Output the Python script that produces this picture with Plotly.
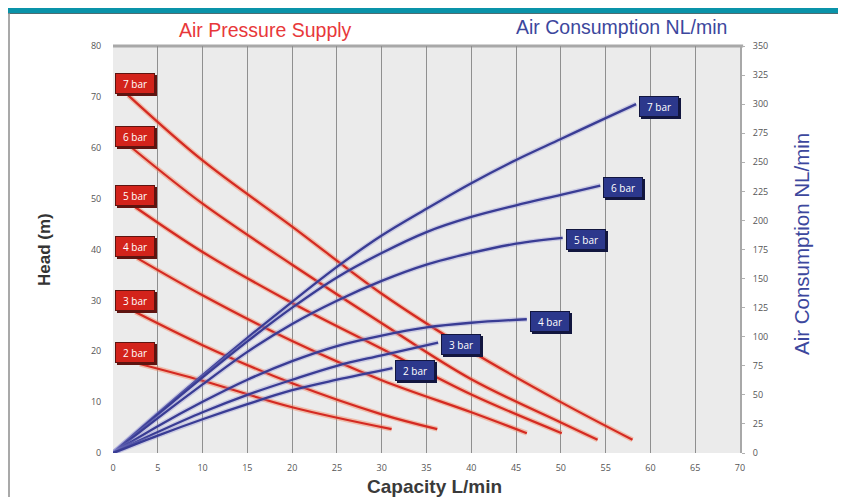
import plotly.graph_objects as go

# ---------------- data ----------------
bar_labels = ["7 bar", "6 bar", "5 bar", "4 bar", "3 bar", "2 bar"]

# Head (m) vs capacity (L/min) for each air pressure supply
head_x = [
    [1.7, 10, 20, 30, 40, 50, 58.0],
    [2.1, 10, 20, 30, 40, 50, 54.1],
    [2.5, 10, 20, 30, 40, 50.1],
    [2.7, 10, 20, 30, 40, 46.2],
    [2.5, 10, 20, 30, 36.2],
    [3.0, 10, 20, 31.1],
]
head_y = [
    [70.3, 57.5, 44.5, 31.3, 20.0, 10.0, 2.6],
    [60.0, 49.0, 37.0, 25.5, 14.5, 6.0, 2.6],
    [48.3, 39.5, 29.5, 20.5, 11.5, 3.9],
    [38.3, 31.0, 22.0, 14.3, 8.0, 3.9],
    [27.7, 21.2, 13.7, 7.6, 4.7],
    [17.5, 14.2, 9.0, 4.7],
]

# Air consumption (NL/min) vs capacity (L/min)
air_x = [
    [0, 5, 10, 15, 20, 25, 30, 35, 40, 45, 50, 55, 58.4],
    [0, 5, 10, 15, 20, 25, 30, 35, 40, 45, 50, 54.4],
    [0, 5, 10, 15, 20, 25, 30, 35, 40, 45, 50.2],
    [0, 5, 10, 15, 20, 25, 30, 35, 40, 46.2],
    [0, 5, 10, 15, 20, 25, 30, 36.3],
    [0, 5, 10, 15, 20, 25, 31.2],
]
air_y = [
    [0, 34, 67, 99, 130, 160, 187, 210, 232, 252, 270, 288, 300],
    [0, 33, 65, 96, 125, 151, 172, 190, 203, 213, 222, 230],
    [0, 30, 59, 87, 111, 131, 148, 162, 172, 180, 185],
    [0, 23, 44, 63, 79, 92, 101, 108, 112, 115],
    [0, 18, 35, 50, 63, 75, 84, 95],
    [0, 15, 29, 42, 54, 63, 73],
]

x_ticks = list(range(0, 75, 5))
y_ticks = list(range(0, 90, 10))
y2_ticks = list(range(0, 375, 25))

# ---------------- styling ----------------
RED = "#d42a22"
RED_GLOW = "rgba(245,130,90,0.45)"
BLUE = "#393c94"
BLUE_GLOW = "rgba(140,140,210,0.35)"
RED_BOX = "#d3231b"
BLUE_BOX = "#2c388c"
TICK_FONT = dict(family="Open Sans", size=9, color="#555555")

fig = go.Figure()

# blue curves (air consumption, right axis)
for xs, ys in zip(air_x, air_y):
    fig.add_trace(go.Scatter(x=xs, y=ys, yaxis="y2", mode="lines",
                             line=dict(color=BLUE_GLOW, width=5, shape="spline"),
                             hoverinfo="skip", showlegend=False))
    fig.add_trace(go.Scatter(x=xs, y=ys, yaxis="y2", mode="lines",
                             line=dict(color=BLUE, width=2.3, shape="spline"),
                             showlegend=False))

# red lines (head, left axis)
for xs, ys in zip(head_x, head_y):
    fig.add_trace(go.Scatter(x=xs, y=ys, mode="lines",
                             line=dict(color=RED_GLOW, width=5, shape="spline"),
                             hoverinfo="skip", showlegend=False))
    fig.add_trace(go.Scatter(x=xs, y=ys, mode="lines",
                             line=dict(color=RED, width=2.2, shape="spline"),
                             showlegend=False))

annotations = []

def box(text, x, y, yref, xanchor, yanchor, xshift, yshift, bg, shadow):
    # drop shadow box (blank text)
    annotations.append(dict(text=" ", x=x, y=y, xref="x", yref=yref, showarrow=False,
                            xanchor=xanchor, yanchor=yanchor,
                            xshift=xshift + 2, yshift=yshift - 2,
                            font=dict(family="Open Sans", size=10, color=shadow),
                            bgcolor=shadow, width=36, height=17, borderpad=1,
                            borderwidth=1, bordercolor=shadow))
    annotations.append(dict(text=text, x=x, y=y, xref="x", yref=yref, showarrow=False,
                            xanchor=xanchor, yanchor=yanchor,
                            xshift=xshift, yshift=yshift,
                            font=dict(family="Open Sans", size=10, color="white"),
                            bgcolor=bg, width=36, height=17, borderpad=1,
                            borderwidth=1, bordercolor=shadow))

for lab, ys in zip(bar_labels, head_y):
    box(lab, 0, ys[0], "y", "left", "bottom", 2, 1, RED_BOX, "#5e1410")

for lab, xs, ys in zip(bar_labels, air_x, air_y):
    box(lab, xs[-1], ys[-1], "y2", "left", "middle", 3, -2, BLUE_BOX, "#12163f")


# positions given in reference pixels, converted to paper coordinates
def px(xp):
    return (xp - 113) / 627


def py(yp):
    return (453 - yp) / 407


annotations += [
    dict(text="Air Pressure Supply", xref="paper", yref="paper", x=px(265),
         y=py(30), showarrow=False, xanchor="center", yanchor="middle",
         font=dict(family="Liberation Sans", size=19.5, color="#e8383a")),
    dict(text="Air Consumption NL/min", xref="paper", yref="paper", x=px(621),
         y=py(27), showarrow=False, xanchor="center", yanchor="middle",
         font=dict(family="Liberation Sans", size=19.5, color="#3c479d")),
    dict(text="Air Consumption NL/min", xref="paper", yref="paper", x=px(801),
         y=py(244), showarrow=False, xanchor="center", yanchor="middle",
         textangle=-90,
         font=dict(family="Liberation Sans", size=20.5, color="#3c479d")),
    dict(text="<b>Head (m)</b>", xref="paper", yref="paper", x=px(45),
         y=py(250), showarrow=False, xanchor="center", yanchor="middle",
         textangle=-90,
         font=dict(family="Liberation Sans", size=17, color="#333333")),
    dict(text="<b>Capacity L/min</b>", xref="paper", yref="paper", x=px(434),
         y=py(486), showarrow=False, xanchor="center", yanchor="middle",
         font=dict(family="Liberation Sans", size=19, color="#3a3a3a")),
]

shapes = [
    # teal band at top
    dict(type="rect", xref="paper", yref="paper", x0=px(0), x1=px(850), y0=py(13), y1=py(-10),
         fillcolor="#0a93a9", line=dict(width=0), layer="above"),
    dict(type="line", xref="paper", yref="paper", x0=px(0), x1=px(850), y0=py(13.5), y1=py(13.5),
         line=dict(color="#4d6d72", width=1)),
    # frame
    dict(type="line", xref="paper", yref="paper", x0=px(9), x1=px(9), y0=py(13), y1=py(500),
         line=dict(color="#8c8c8c", width=1.5)),
    dict(type="line", xref="paper", yref="paper", x0=px(843), x1=px(843), y0=py(13), y1=py(500),
         line=dict(color="#8c8c8c", width=1.5)),
    # top border of plot area
    dict(type="line", xref="paper", yref="paper", x0=0, x1=1.005, y0=1, y1=1,
         line=dict(color="#a8a8a8", width=3), layer="below"),
]

# page body has an 8px margin: figure is 838x489 so that it fills the 846x497 window
fig.update_layout(
    width=838, height=489, autosize=False,
    margin=dict(l=105, r=106, t=38, b=44),
    paper_bgcolor="white", plot_bgcolor="#ebebeb",
    showlegend=False,
    annotations=annotations, shapes=shapes,
    xaxis=dict(range=[0, 70], tickvals=x_ticks, showgrid=False, zeroline=False,
               ticks="outside", ticklen=6, tickcolor="rgba(0,0,0,0)",
               tickfont=TICK_FONT, showline=False, fixedrange=True,
               minor=dict(tickvals=x_ticks[1:-1], showgrid=True,
                          gridcolor="#8f8f8f", gridwidth=1)),
    yaxis=dict(range=[0, 80], tickvals=y_ticks, showgrid=False, zeroline=False,
               ticks="outside", ticklen=9, tickcolor="rgba(0,0,0,0)",
               tickfont=TICK_FONT, showline=False, fixedrange=True),
    yaxis2=dict(range=[0, 350], tickvals=y2_ticks, overlaying="y", side="right",
                showgrid=False, zeroline=False, showline=True, linecolor="#a8a8a8",
                linewidth=2, ticks="outside", ticklen=3, tickcolor="#b0b0b0",
                ticklabelstandoff=6, tickfont=TICK_FONT, fixedrange=True),
)

fig.write_html("out.html")
